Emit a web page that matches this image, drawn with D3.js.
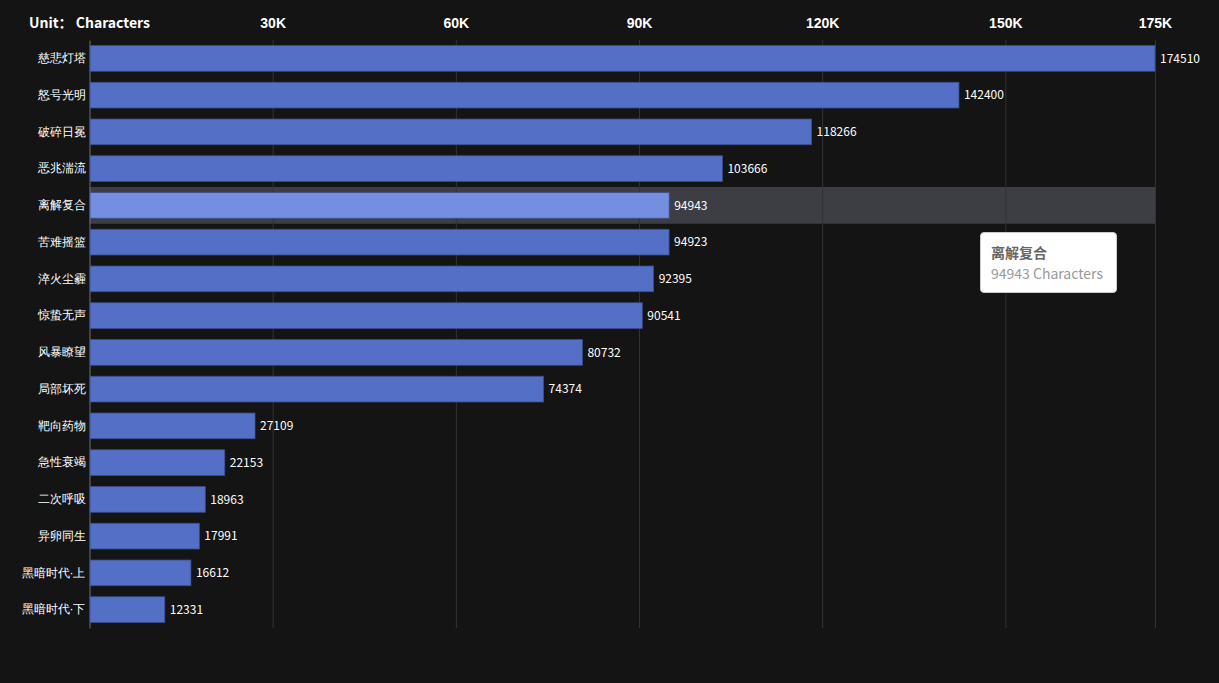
<!DOCTYPE html>
<html>
<head>
<meta charset="utf-8">
<script src="https://cdn.jsdelivr.net/npm/d3@7"></script>
<style>
  html, body { margin: 0; padding: 0; background: #141414; }
  body { width: 1219px; height: 683px; overflow: hidden; position: relative; }
  svg { font-family: "Microsoft YaHei", "Noto Sans CJK SC", sans-serif; }
  .tooltip {
    position: absolute; background: #fff; border-radius: 4px;
    border: 1px solid #ccc; padding: 9px 10px 8px 10px; width: 115px;
    font-family: "Microsoft YaHei", "Noto Sans CJK SC", sans-serif;
    font-size: 14px; line-height: 21px; color: #666;
  }
  .tooltip .v { color: #999; }
</style>
</head>
<body>
<div id="chart"></div>
<script>
// Data
const categories = ['慈悲灯塔', '怒号光明', '破碎日冕', '恶兆湍流', '离解复合', '苦难摇篮', '淬火尘霾', '惊蛰无声',
  '风暴瞭望', '局部坏死', '靶向药物', '急性衰竭', '二次呼吸', '异卵同生', '黑暗时代·上', '黑暗时代·下']
const values = [174510, 142400, 118266, 103666, 94943, 94923, 92395, 90541,
  80732, 74374, 27109, 22153, 18963, 17991, 16612, 12331]
const tickValues = [30000, 60000, 90000, 120000, 150000, 174510]
const tickLabels = ['30K', '60K', '90K', '120K', '150K', '175K']
const unitLabel = 'Unit： Characters'
const highlighted = '离解复合'

const drawChart = () => {
  // Vars for dimensions
  const width = 1219
  const height = 683
  const margin = { top: 40, right: 64, bottom: 55, left: 89.5 }
  const innerWidth = width - margin.left - margin.right
  const innerHeight = height - margin.top - margin.bottom

  const data = categories.map((c, i) => ({ name: c, value: values[i] }))

  const svg = d3.select('#chart')
    .append('svg')
    .attr('width', width)
    .attr('height', height)

  const g = svg.append('g')
    .attr('transform', `translate(${margin.left}, ${margin.top})`)

  // Scales
  const x = d3.scaleLinear().domain([0, d3.max(values)]).range([0, innerWidth])
  const y = d3.scaleBand().domain(categories).range([0, innerHeight]).paddingInner(0.3).paddingOuter(0.15)
  const yBand = d3.scaleBand().domain(categories).range([0, innerHeight])

  // Highlight band for hovered category
  g.append('rect')
    .attr('x', 0)
    .attr('y', yBand(highlighted))
    .attr('width', innerWidth)
    .attr('height', yBand.bandwidth())
    .attr('fill', '#3d3e43')

  // X gridlines
  g.append('g')
    .call(d3.axisTop(x).tickValues(tickValues).tickSize(-innerHeight).tickFormat(''))
    .call(a => a.select('.domain').remove())
    .call(a => a.selectAll('line').attr('stroke', '#333'))

  // Top axis labels
  g.append('g')
    .call(d3.axisTop(x).tickValues(tickValues).tickSize(0).tickPadding(12)
      .tickFormat((d, i) => tickLabels[i]))
    .call(a => a.select('.domain').remove())
    .call(a => a.selectAll('text')
      .attr('fill', '#fff').attr('font-size', 14).attr('font-weight', 'bold'))

  // Unit label
  g.append('text')
    .attr('x', 0)
    .attr('y', -12)
    .attr('text-anchor', 'middle')
    .attr('fill', '#fff')
    .attr('font-size', 14)
    .attr('font-weight', 'bold')
    .text(unitLabel)

  // Left axis - categories
  g.append('g')
    .call(d3.axisLeft(yBand).tickSize(0).tickPadding(4))
    .call(a => a.select('.domain').attr('stroke', '#6e7079'))
    .call(a => a.selectAll('text').attr('fill', '#fff').attr('font-size', 12))

  // Bars
  g.selectAll('.bar')
    .data(data)
    .join('rect')
    .attr('class', 'bar')
    .attr('x', 0.5)
    .attr('y', d => y(d.name))
    .attr('width', d => x(d.value) - 0.5)
    .attr('height', y.bandwidth())
    .attr('fill', d => d.name === highlighted ? '#748fe0' : '#5470c6')
    .attr('stroke', '#3a4d8c')
    .attr('stroke-width', 0.8)

  // Value labels
  g.selectAll('.val')
    .data(data)
    .join('text')
    .attr('class', 'val')
    .attr('x', d => x(d.value) + 5)
    .attr('y', d => y(d.name) + y.bandwidth() / 2)
    .attr('dy', '0.35em')
    .attr('fill', '#fff')
    .attr('font-size', 12)
    .text(d => d.value)

  // Tooltip
  const hv = data.find(d => d.name === highlighted)
  d3.select('body').append('div')
    .attr('class', 'tooltip')
    .style('left', '980px')
    .style('top', '232px')
    .html(`<div style="font-weight:bold">${hv.name}</div><div class="v">${hv.value} Characters</div>`)
}

drawChart()
</script>
</body>
</html>
